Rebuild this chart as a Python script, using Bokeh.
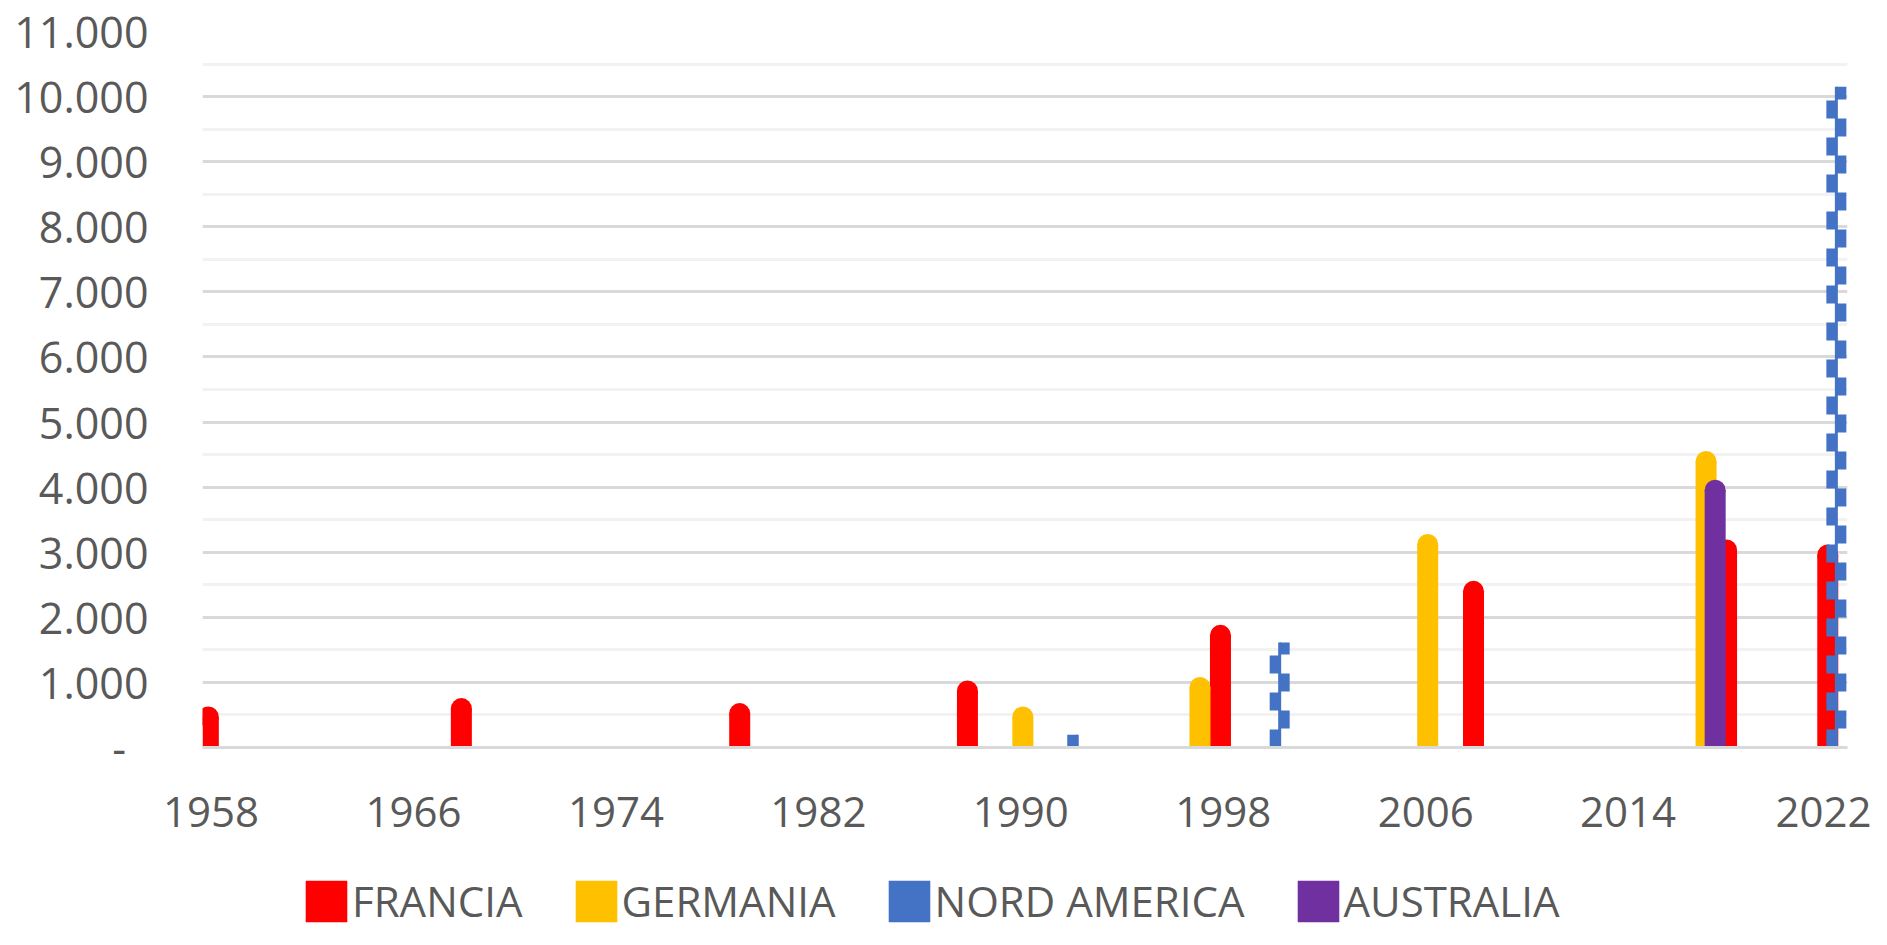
from bokeh.plotting import figure
from bokeh.layouts import column
from bokeh.models import (ColumnDataSource, FixedTicker, Legend, LegendItem, Range1d)
from bokeh.transform import dodge
from bokeh.embed import file_html
from bokeh.resources import INLINE

# ---------------- data ----------------
series_names = ["FRANCIA", "GERMANIA", "NORD AMERICA", "AUSTRALIA"]
series_colors = ["#FF0000", "#FFC000", "#4472C4", "#7030A0"]

francia_years = [1958, 1968, 1979, 1988, 1998, 2008, 2018, 2022]
francia_values = [631, 759, 682, 1031, 1885, 2561, 3195, 3120]

germania_years = [1990, 1997, 2006, 2017]
germania_values = [631, 1085, 3280, 4555]

nord_america_years = [1992, 2000, 2022]
nord_america_values = [195, 1615, 10150]

australia_years = [2017]
australia_values = [4115]

x_ticks = [1958, 1966, 1974, 1982, 1990, 1998, 2006, 2014, 2022]
y_ticks = [0, 1000, 2000, 3000, 4000, 5000, 6000, 7000, 8000, 9000, 10000, 11000]
y_tick_labels = ["-\u00a0\u00a0", "1.000", "2.000", "3.000", "4.000", "5.000",
                 "6.000", "7.000", "8.000", "9.000", "10.000", "11.000"]

# ---------------- style ----------------
FONT = "Open Sans"
TXT = "#595959"
series_offsets = [-0.11, 0.08, 0.23, 0.44]   # cluster position within the year
BAR_PX = 21
X_START, X_END = 1957.66, 2022.67
Y_START, Y_END = 0, 11000
FRAME_H = 716
cap_r = (BAR_PX / 2) / FRAME_H * (Y_END - Y_START)
px_per_year = 1645 / (X_END - X_START)
bar_w = BAR_PX / px_per_year

W = 1871
MAIN_H = 860
LEG_H = 69

p = figure(width=W, height=MAIN_H, output_backend="svg", toolbar_location=None,
           x_range=Range1d(X_START, X_END), y_range=Range1d(Y_START, Y_END),
           min_border_left=202, min_border_right=24, min_border_top=31,
           min_border_bottom=MAIN_H - 31 - FRAME_H)
p.outline_line_color = None
p.background_fill_color = "white"
p.border_fill_color = "white"

# grid
p.xgrid.visible = False
p.yaxis.ticker = FixedTicker(ticks=y_ticks,
                             minor_ticks=[t + 500 for t in y_ticks[:-1]])
p.ygrid.grid_line_color = "#D9D9D9"
p.ygrid.grid_line_width = 3
p.ygrid.minor_grid_line_color = "#F2F2F2"
p.ygrid.minor_grid_line_width = 3

# axes
p.xaxis.ticker = FixedTicker(ticks=x_ticks)
for ax in (p.xaxis[0], p.yaxis[0]):
    ax.major_tick_out = 0
    ax.major_tick_in = 0
    ax.minor_tick_out = 0
    ax.minor_tick_in = 0
    ax.major_label_text_font = FONT
    ax.major_label_text_color = TXT
p.xaxis.major_label_text_font_size = "42px"
p.yaxis.major_label_text_font_size = "43px"
p.yaxis.axis_line_color = None
p.yaxis.major_label_standoff = 54
p.yaxis.major_label_overrides = {t: l for t, l in zip(y_ticks, y_tick_labels)}
p.xaxis.axis_line_color = "#D9D9D9"
p.xaxis.axis_line_width = 3
p.xaxis.major_label_standoff = 49


def rounded_bars(years, values, color, offset):
    src = ColumnDataSource(dict(year=years, top=[v - cap_r for v in values]))
    p.vbar(x=dodge("year", offset, range=p.x_range), bottom=0, top="top",
           width=bar_w, source=src, fill_color=color, line_color=None)
    p.scatter(x=dodge("year", offset, range=p.x_range), y="top", size=BAR_PX,
              marker="circle", source=src, fill_color=color, line_color=None)

# FRANCIA
rounded_bars(francia_years, francia_values, series_colors[0], series_offsets[0])
# GERMANIA
rounded_bars(germania_years, germania_values, series_colors[1], series_offsets[1])

# NORD AMERICA : patterned (dashed chain) column
na_src = ColumnDataSource(dict(year=nord_america_years, top=nord_america_values))
half = 5 / px_per_year
p.segment(x0=dodge("year", series_offsets[2] - half, range=p.x_range), y0=0,
          x1=dodge("year", series_offsets[2] - half, range=p.x_range), y1="top",
          source=na_src, line_color=series_colors[2], line_width=10,
          line_dash="18 19", line_dash_offset=0)
p.segment(x0=dodge("year", series_offsets[2] + half, range=p.x_range), y0=0,
          x1=dodge("year", series_offsets[2] + half, range=p.x_range), y1="top",
          source=na_src, line_color=series_colors[2], line_width=10,
          line_dash="18 19", line_dash_offset=18)
p.segment(x0=dodge("year", series_offsets[2], range=p.x_range), y0=0,
          x1=dodge("year", series_offsets[2], range=p.x_range), y1="top",
          source=na_src, line_color=series_colors[2], line_width=3)

# AUSTRALIA
rounded_bars(australia_years, australia_values, series_colors[3], series_offsets[3])

# ---------------- legend strip (own small figure below the chart) ----------------
lg = figure(width=W, height=LEG_H, output_backend="svg", toolbar_location=None,
            x_range=Range1d(X_START, X_END), y_range=Range1d(Y_START, Y_END),
            x_axis_location=None, y_axis_location=None,
            min_border_left=0, min_border_right=0, min_border_top=0,
            min_border_bottom=0)
lg.outline_line_color = None
lg.xgrid.visible = False
lg.ygrid.visible = False
lg.background_fill_color = "white"
lg.border_fill_color = "white"

all_years = [francia_years, germania_years, nord_america_years, australia_years]
all_values = [francia_values, germania_values, nord_america_values, australia_values]
legend_items = []
for name, color, yrs, vals in zip(series_names, series_colors, all_years, all_values):
    proxy = lg.vbar(x=yrs, top=vals, width=bar_w, fill_color=color,
                    line_color=None, visible=False)
    legend_items.append(LegendItem(label=name, renderers=[proxy]))

legend = Legend(items=legend_items, orientation="horizontal", location=(98, 0))
legend.label_text_font = FONT
legend.label_text_font_size = "42px"
legend.label_text_color = TXT
legend.glyph_width = 52
legend.glyph_height = 52
legend.label_standoff = 0
legend.spacing = 47
legend.padding = 0
legend.margin = 0
legend.border_line_color = None
legend.background_fill_alpha = 0
lg.add_layout(legend, "center")

layout = column(p, lg, spacing=0)
open("out.html", "w").write(file_html(layout, INLINE))
